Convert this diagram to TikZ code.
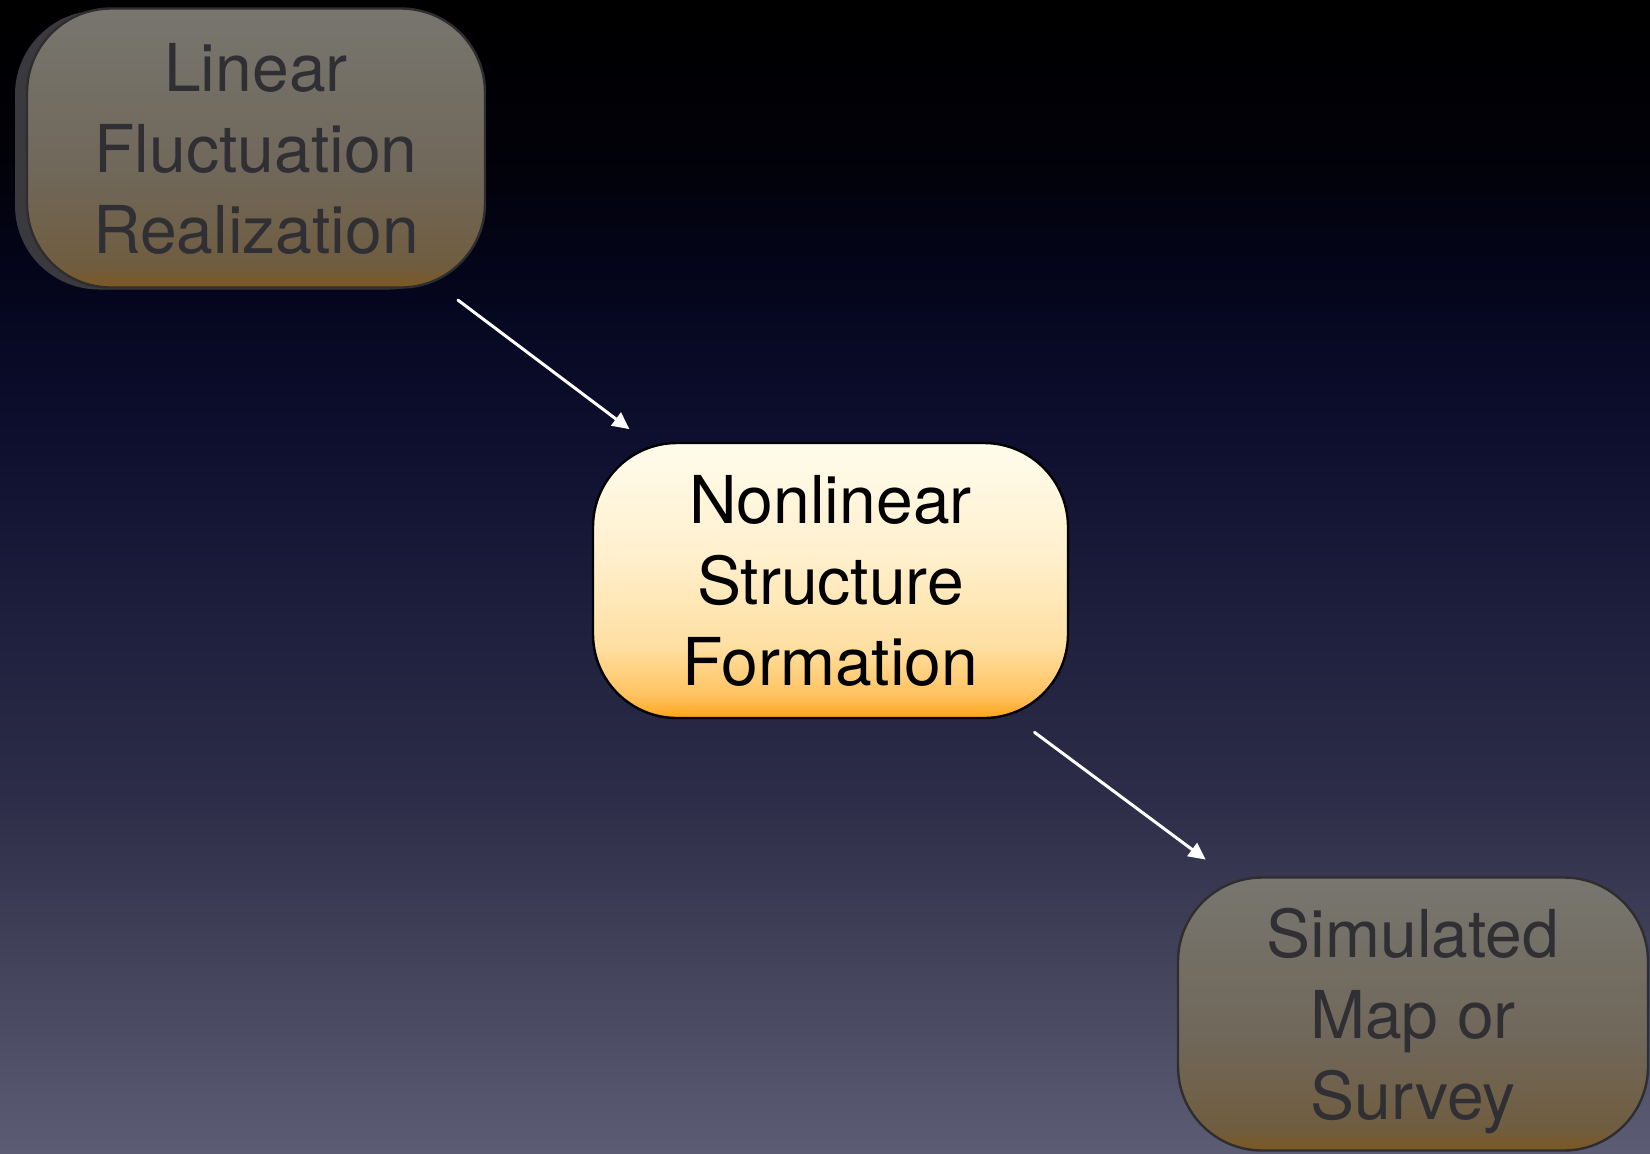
\documentclass[tikz,border=0pt]{standalone}
\usepackage{fontspec}
\setmainfont{TeX Gyre Heros}
\usetikzlibrary{arrows.meta}
\definecolor{bgA}{HTML}{000000}
\definecolor{bgB}{HTML}{010108}
\definecolor{bgC}{HTML}{05061E}
\definecolor{bgD}{HTML}{0F1030}
\definecolor{bgE}{HTML}{1F203D}
\definecolor{bgF}{HTML}{2D2D49}
\definecolor{bgG}{HTML}{45455D}
\definecolor{bgH}{HTML}{5C5C74}
\definecolor{orA}{HTML}{FFA318}
\definecolor{orB}{HTML}{FFC25E}
\definecolor{orC}{HTML}{FFDFA2}
\definecolor{orD}{HTML}{FFF0CE}
\definecolor{orE}{HTML}{FFFCEC}
\definecolor{grA}{HTML}{7C5822}
\definecolor{grB}{HTML}{705D40}
\definecolor{grC}{HTML}{706759}
\definecolor{grD}{HTML}{77766F}
\definecolor{grText}{HTML}{2F2F34}
\definecolor{grEdge}{HTML}{2E2E30}
\definecolor{shadowGrey}{HTML}{3A3A3E}
\pgfdeclareverticalshading{bgshade}{100bp}{color(0bp)=(bgH); color(25bp)=(bgH); color(32.5bp)=(bgG); color(40.3bp)=(bgF); color(47.7bp)=(bgE); color(55.5bp)=(bgD); color(62bp)=(bgC); color(68.5bp)=(bgB); color(75bp)=(bgA); color(100bp)=(bgA)}
\pgfdeclareverticalshading{orshade}{100bp}{color(0bp)=(orA); color(25bp)=(orA); color(29bp)=(orB); color(38bp)=(orC); color(55bp)=(orD); color(75bp)=(orE); color(100bp)=(orE)}
\pgfdeclareverticalshading{grshade}{100bp}{color(0bp)=(grA); color(25bp)=(grA); color(29bp)=(grB); color(45bp)=(grC); color(75bp)=(grD); color(100bp)=(grD)}
\tikzset{
  box/.style={rectangle, rounded corners=42pt, align=center, inner sep=0pt, outer sep=0pt,
    font=\fontsize{33}{40.5}\selectfont, text depth=0pt},
  hotbox/.style={box, draw=black, line width=1.2pt, shading=orshade, text=black},
  dimbox/.style={box, draw=grEdge, line width=1.2pt, shading=grshade, text=grText},
  shadowbox/.style={rectangle, rounded corners=42pt, fill=shadowGrey, inner sep=0pt, outer sep=0pt},
  arr/.style={draw=white, line width=1.5pt, line cap=round, -{Triangle[length=8.5pt,width=8pt]}}
}
\begin{document}
\begin{tikzpicture}[x=0.5pt,y=-0.5pt]
\useasboundingbox (0,0) rectangle (1650,1153);
\path[shading=bgshade] (0,0) rectangle (1650,1153);
\node[shadowbox, minimum width=229pt, minimum height=139.5pt] (tlshadow) at (244,150) {};
\node[dimbox, minimum width=229pt, minimum height=139.5pt] (tl) at (256,148) {Linear\\Fluctuation\\Realization};
\node[hotbox, minimum width=237.5pt, minimum height=137.5pt] (c) at (830.5,580.5) {Nonlinear\\Structure\\Formation};
\node[dimbox, minimum width=235pt, minimum height=136.5pt] (br) at (1413,1014) {Simulated\\Map or\\Survey};
\draw[arr, shorten <=10.5pt, shorten >=11.5pt] (tl) -- (c);
\draw[arr, shorten <=12pt, shorten >=15pt] (c) -- (br);
\end{tikzpicture}
\end{document}
